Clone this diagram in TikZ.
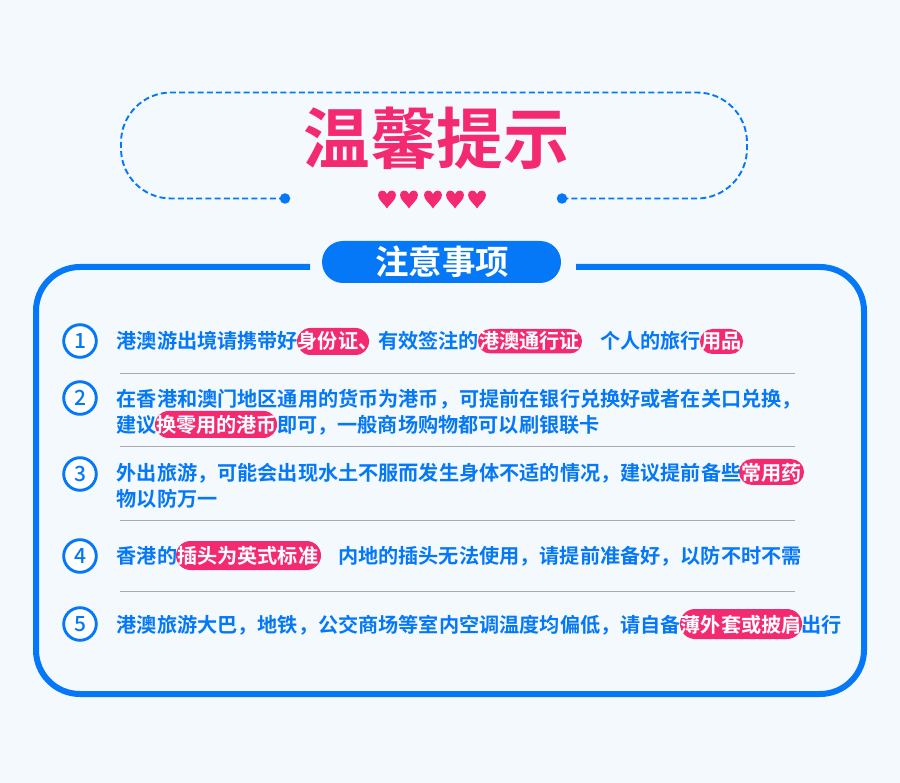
\documentclass[tikz,border=0pt]{standalone}
\usepackage{fontspec}
\usetikzlibrary{shapes.misc,calc}
\newfontfamily\cjkb{Noto Sans CJK SC Bold}
\newfontfamily\cjkm{Noto Sans CJK SC Medium}
\definecolor{bgc}{HTML}{F4F9FE}
\definecolor{bluec}{HTML}{0578F8}
\definecolor{pinkc}{HTML}{F42A71}
\definecolor{sepc}{HTML}{ABABAD}
\tikzset{
  body/.style={anchor=west,inner sep=0pt,text=bluec,font=\cjkb\fontsize{20.15}{24}\selectfont,text height=17.7pt,text depth=2.4pt},
  hot/.style={body,text=white},
  pillbox/.style={rounded rectangle,fill=pinkc,inner sep=0pt,anchor=center},
  numring/.style={circle,draw=bluec,line width=2.9pt,fill=white,minimum size=32.6pt,inner sep=0pt,text=bluec,font=\cjkm\fontsize{21}{24}\selectfont},
  seprule/.style={draw=sepc,line width=1pt},
  heartmark/.style={fill=pinkc,draw=none},
  dotmark/.style={circle,fill=bluec,minimum size=10.5pt,inner sep=0pt},
  framerule/.style={draw=bluec,line width=6pt},
  dashrule/.style={draw=bluec,line width=1.9pt,dash pattern=on 6pt off 3.2pt},
}
\newcommand{\heartat}[2]{\fill[heartmark,shift={(#1,#2)}] (0,9.5) .. controls (-2.5,5) and (-9,1) .. (-9,-4) .. controls (-9,-9.5) and (-2,-10) .. (0,-5) .. controls (2,-10) and (9,-9.5) .. (9,-4) .. controls (9,1) and (2.5,5) .. (0,9.5) -- cycle;}
% name, x1, y1, x2, y2
\newcommand{\pillat}[5]{\path let \n1={#4-#2},\n2={#5-#3} in node[pillbox,minimum width=\n1 pt,minimum height=\n2 pt] (#1) at ({(#2+#4)/2},{(#3+#5)/2}) {};}
\begin{document}
\begin{tikzpicture}[x=1pt,y=-1pt]
\useasboundingbox (0,0) rectangle (900,783);
\fill[bgc] (0,0) rectangle (900,783);
% header dashed frame
\coordinate (dlc) at (285,198.5);
\coordinate (drc) at (562,198.5);
\draw[dashrule,rounded corners=50pt] (dlc) -- (121,198.5) -- (121,92.5) -- (747,92.5) -- (747,198.5) -- (drc);
\node[dotmark] (dl) at (dlc) {};
\node[dotmark] (dr) at (drc) {};
\node[inner sep=0pt,text=pinkc,font=\cjkb\fontsize{66.5}{70}\selectfont] (title) at (436.5,138) {温馨提示};
\heartat{387}{199}\heartat{409}{199}\heartat{433}{199}\heartat{455}{199}\heartat{477}{199}
% main frame
\draw[framerule,rounded corners=44pt] (310,267) -- (36,267) -- (36,694) -- (864,694) -- (864,267) -- (576,267);
\node[rounded rectangle,fill=bluec,minimum width=239pt,minimum height=42pt,inner sep=0pt] (head) at (441.5,262) {};
\node[inner sep=0pt,text=white,font=\cjkb\fontsize{33.5}{36}\selectfont] (headtxt) at (442,262) {注意事项};
% number rings
\node[numring] (n1) at (80,341) {1};
\node[numring] (n2) at (80,398) {2};
\node[numring] (n3) at (80,474) {3};
\node[numring] (n4) at (80,556) {4};
\node[numring] (n5) at (80,624) {5};
% separators
\draw[seprule] (120,374) -- (795,374);
\draw[seprule] (120,447) -- (795,447);
\draw[seprule] (120,520) -- (795,520);
\draw[seprule] (120,591) -- (795,591);
% item 1
\pillat{p1a}{297}{328}{369}{355}
\pillat{p1b}{478}{329}{582}{353.5}
\pillat{p1c}{700}{329}{743}{354}
\node[body] (t1a) at (116.5,341) {港澳游出境请携带好};
\node[hot] (t1b) at (297.5,341) {身份证、};
\node[body] (t1c) at (378,341) {有效签注的};
\node[hot] (t1d) at (479,341) {港澳通行证};
\node[body] (t1e) at (600,341) {个人的旅行};
\node[hot] (t1f) at (701,341) {用品};
% item 2
\pillat{p2a}{155}{411}{277}{438}
\node[body] (t2a) at (116.5,399) {在香港和澳门地区通用的货币为港币，可提前在银行兑换好或者在关口兑换，};
\node[body] (t2b) at (116.5,425) {建议};
\node[hot] (t2c) at (156,425) {换零用的港币};
\node[body] (t2d) at (277,425) {即可，一般商场购物都可以刷银联卡};
% item 3
\pillat{p3a}{739}{459}{804}{485}
\node[body] (t3a) at (116.5,473) {外出旅游，可能会出现水土不服而发生身体不适的情况，建议提前备些};
\node[hot] (t3b) at (741,473) {常用药};
\node[body] (t3c) at (116.5,499) {物以防万一};
% item 4
\pillat{p4a}{176}{541}{321}{570}
\node[body] (t4a) at (116.5,556) {香港的};
\node[hot] (t4b) at (177,556) {插头为英式标准};
\node[body] (t4c) at (338,556) {内地的插头无法使用，请提前准备好，以防不时不需};
% item 5
\pillat{p5a}{680}{609}{802}{639}
\node[body] (t5a) at (116.5,625) {港澳旅游大巴，地铁，公交商场等室内空调温度均偏低，请自备};
\node[hot] (t5b) at (680.5,625) {薄外套或披肩};
\node[body] (t5c) at (801,625) {出行};
\end{tikzpicture}
\end{document}
